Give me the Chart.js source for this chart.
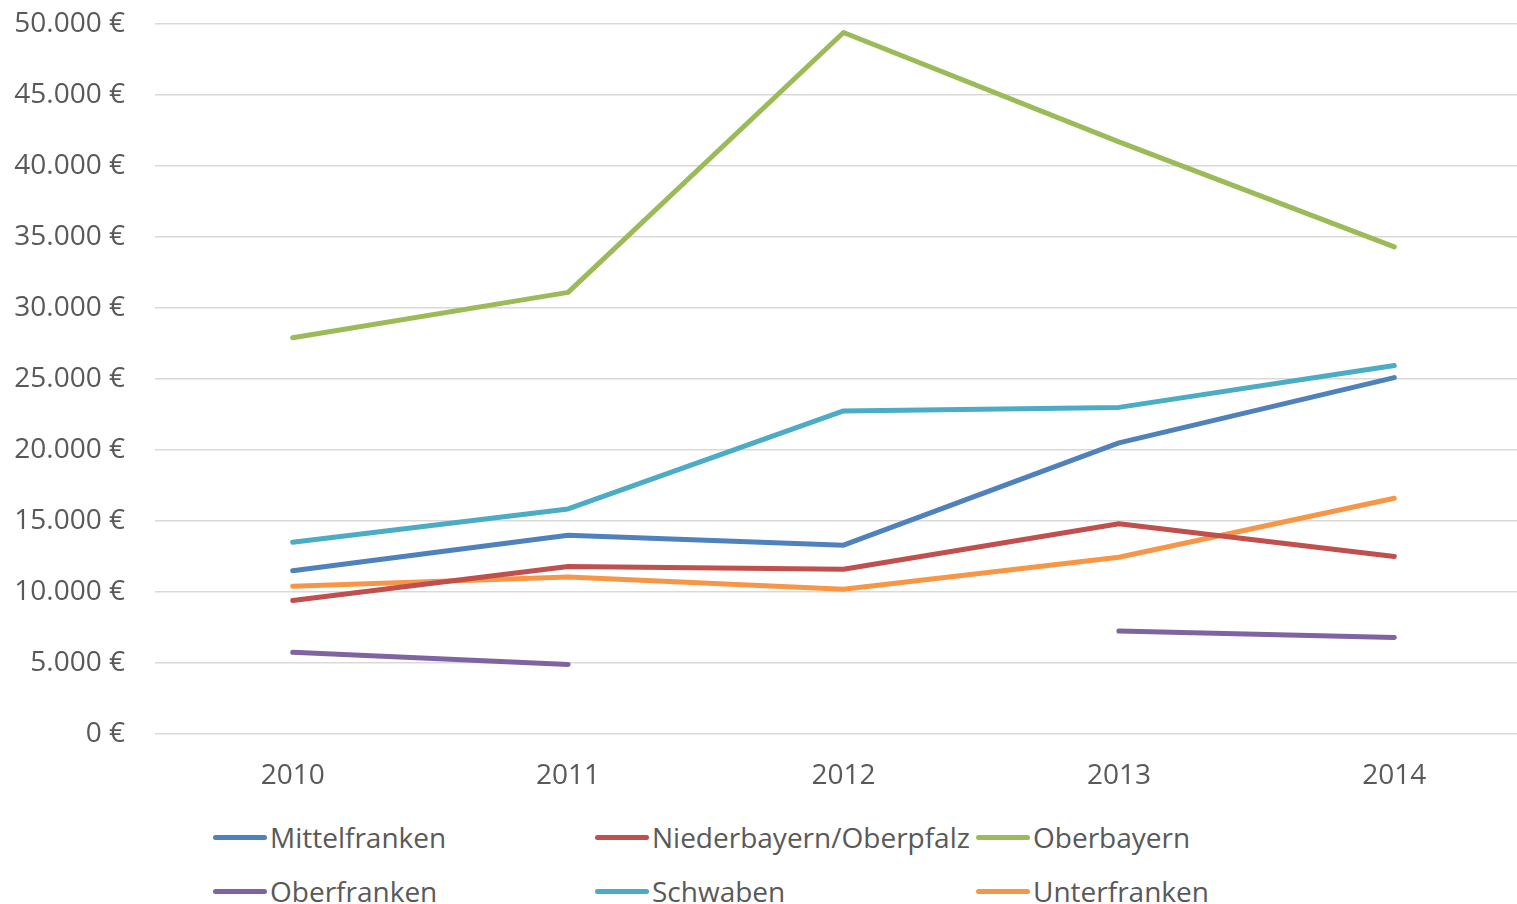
<!DOCTYPE html>
<html lang="de">
<head>
<meta charset="utf-8">
<script src="https://cdn.jsdelivr.net/npm/chart.js@4/dist/chart.umd.min.js"></script>
<style>
  html, body { margin: 0; padding: 0; background: #fff; }
  #wrap { position: relative; width: 1517px; height: 904px; overflow: hidden; }
  #chart { position: absolute; left: 0; top: 0; }
  .leg { position: absolute; display: flex; align-items: center; font: 28px "Open Sans", sans-serif; color: #595959; white-space: nowrap; }
  .leg span.sw { display: inline-block; width: 54px; height: 5px; border-radius: 3px; margin-right: 3px; }
</style>
</head>
<body>
<div id="wrap">
  <canvas id="chart" width="1532" height="800"></canvas>
</div>
<script>
// Jahre (x-Achse)
const years = ['2010', '2011', '2012', '2013', '2014'];

// Werte je Regierungsbezirk in Euro
const mittelfranken = [11500, 14000, 13300, 20500, 25100];
const niederbayernOberpfalz = [9400, 11800, 11600, 14800, 12500];
const oberbayern = [27900, 31100, 49400, 41700, 34300];
const oberfranken = [5750, 4900, null, 7250, 6800]; // 2012 fehlt
const schwaben = [13500, 15850, 22750, 23000, 25950];
const unterfranken = [10400, 11050, 10200, 12450, 16600];

const yTicks = [0, 5000, 10000, 15000, 20000, 25000, 30000, 35000, 40000, 45000, 50000];

const series = [
  { name: 'Mittelfranken', data: mittelfranken, color: '#4f81bd' },
  { name: 'Niederbayern/Oberpfalz', data: niederbayernOberpfalz, color: '#c0504d' },
  { name: 'Oberbayern', data: oberbayern, color: '#9bbb59' },
  { name: 'Oberfranken', data: oberfranken, color: '#8064a2' },
  { name: 'Schwaben', data: schwaben, color: '#4bacc6' },
  { name: 'Unterfranken', data: unterfranken, color: '#f79646' },
];

const FONT = '"Open Sans", sans-serif';
const TEXT = '#595959';

function euro(v) {
  return Number(v).toLocaleString('de-DE', { maximumFractionDigits: 0 }) + ' €';
}

new Chart(document.getElementById('chart').getContext('2d'), {
  type: 'line',
  data: {
    labels: years,
    datasets: series.map(s => ({
      label: s.name,
      data: s.data,
      borderColor: s.color,
      backgroundColor: s.color,
      borderWidth: 5,
      borderCapStyle: 'round',
      borderJoinStyle: 'round',
      tension: 0,
      pointRadius: 0,
      spanGaps: false,
    })),
  },
  options: {
    responsive: false,
    animation: false,
    layout: { padding: { top: 24, right: 0, bottom: 0, left: 0 } },
    plugins: { legend: { display: false }, tooltip: { enabled: false } },
    scales: {
      x: {
        offset: true,
        grid: { display: false },
        border: { display: false },
        ticks: { color: TEXT, font: { family: FONT, size: 28 }, padding: 17 },
        afterFit: s => { s.height = 66; s.paddingLeft = 0; s.paddingRight = 0; },
      },
      y: {
        min: 0,
        max: 50000,
        afterBuildTicks: s => { s.ticks = yTicks.map(v => ({ value: v })); },
        grid: { color: '#d9d9d9', lineWidth: 1.5, drawTicks: false },
        border: { display: false },
        ticks: { color: TEXT, font: { family: FONT, size: 28 }, padding: 30, callback: v => euro(v) },
        afterFit: s => { s.width = 155; s.paddingTop = 0; s.paddingBottom = 0; },
      },
    },
  },
});

// Legende als Raster (3 Spalten, 2 Zeilen)
const legCols = [213, 595, 976];
const legRows = [837, 891];
const wrap = document.getElementById('wrap');
series.forEach((s, i) => {
  const el = document.createElement('div');
  el.className = 'leg';
  el.style.left = legCols[i % 3] + 'px';
  el.style.top = (legRows[Math.floor(i / 3)] - 20) + 'px';
  el.style.height = '40px';
  el.innerHTML = `<span class="sw" style="background:${s.color}"></span>${s.name}`;
  wrap.appendChild(el);
});
</script>
</body>
</html>
